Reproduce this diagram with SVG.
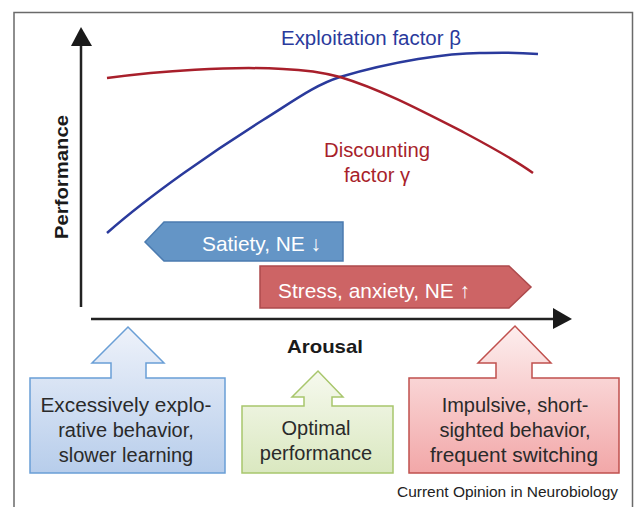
<svg xmlns="http://www.w3.org/2000/svg" width="634" height="507" viewBox="0 0 634 507">
<defs>
<style>
text{font-family:"Liberation Sans",Arial,sans-serif;}
.ax{stroke:#222;stroke-width:2.5;fill:none;}
.head{fill:#1a1a1a;}
.blue{stroke:#2a3a9c;stroke-width:2.5;fill:none;}
.red{stroke:#a81f2b;stroke-width:2.5;fill:none;}
.lbl{font-size:20px;text-anchor:middle;fill:#2a2a2a;}
.bold{font-weight:bold;font-size:19px;fill:#1a1a1a;}
</style>
<linearGradient id="gB" x1="0" y1="0" x2="0" y2="1"><stop offset="0" stop-color="#eef2fa"/><stop offset="1" stop-color="#b7cdeb"/></linearGradient>
<linearGradient id="gG" x1="0" y1="0" x2="0" y2="1"><stop offset="0" stop-color="#f6f9ee"/><stop offset="1" stop-color="#dae8c0"/></linearGradient>
<linearGradient id="gR" x1="0" y1="0" x2="0" y2="1"><stop offset="0" stop-color="#fdeeee"/><stop offset="1" stop-color="#f2a7a8"/></linearGradient>
</defs>
<rect width="634" height="507" fill="#fff"/>
<path d="M14,507 L14,12.5 L632.5,12.5 L632.5,507" fill="none" stroke="#6a6a6a" stroke-width="1.5"/>

<g id="axes">
<line class="ax" x1="81" y1="307" x2="81" y2="44"/>
<polygon class="head" points="71,46 81,27 92,46"/>
<line class="ax" x1="91" y1="319" x2="556" y2="319"/>
<polygon class="head" points="553,308 572,319 553,329"/>
<text class="bold" transform="translate(68,177) rotate(-90)" text-anchor="middle" textLength="124" lengthAdjust="spacingAndGlyphs">Performance</text>
<text class="bold" x="325" y="353" text-anchor="middle" textLength="76" lengthAdjust="spacingAndGlyphs">Arousal</text>
</g>

<g id="curves">
<path class="blue" d="M107,233 C150,195 215,150 263,120 C295,100 315,85 340,77 C390,62 450,52 485,53 C510,52 525,53 538,54"/>
<path class="red" d="M107,78 C160,71 230,66 283,69 C310,70 325,73 340,77 C380,89 420,110 465,133 C495,149 515,160 533,173"/>
<text x="281" y="45" font-size="20" fill="#2a3a9c" textLength="180" lengthAdjust="spacingAndGlyphs">Exploitation factor β</text>
<text x="377" y="157" font-size="20" fill="#a81f2b" text-anchor="middle" textLength="106" lengthAdjust="spacingAndGlyphs">Discounting</text>
<text x="377" y="182" font-size="20" fill="#a81f2b" text-anchor="middle" textLength="66" lengthAdjust="spacingAndGlyphs">factor γ</text>
</g>

<g id="satiety">
<polygon points="145,242 164,222 343,222 343,261 164,261" fill="#6495c6" stroke="#4b7bb0" stroke-width="1.5"/>
<text x="202" y="251" font-size="21" fill="#fff" textLength="119" lengthAdjust="spacingAndGlyphs">Satiety, NE ↓</text>
</g>

<g id="stress">
<polygon points="260,266 509,266 531,287 509,308 260,308" fill="#cd6465" stroke="#ad4a4c" stroke-width="1.5"/>
<text x="278" y="298" font-size="21" fill="#fff" textLength="192" lengthAdjust="spacingAndGlyphs">Stress, anxiety, NE ↑</text>
</g>

<g id="explorative">
<path d="M30,378 L111,378 L111,363 L92,363 L128,327 L164,363 L146,363 L146,378 L225,378 L225,473 L30,473 Z" fill="url(#gB)" stroke="#6a9fd6" stroke-width="1.5"/>
<text class="lbl" x="126" y="412" textLength="171" lengthAdjust="spacingAndGlyphs">Excessively explo-</text>
<text class="lbl" x="126" y="437">rative behavior,</text>
<text class="lbl" x="126" y="462">slower learning</text>
</g>

<g id="optimal">
<path d="M242,406 L304,406 L304,397 L292,397 L318,371 L343,397 L332,397 L332,406 L393,406 L393,473 L242,473 Z" fill="url(#gG)" stroke="#a8c66c" stroke-width="1.5"/>
<text class="lbl" x="316" y="435">Optimal</text>
<text class="lbl" x="316" y="460">performance</text>
</g>

<g id="impulsive">
<path d="M409,378 L496,378 L496,363 L478,363 L515,326 L551,363 L532,363 L532,378 L619,378 L619,473 L409,473 Z" fill="url(#gR)" stroke="#c0504d" stroke-width="1.5"/>
<text class="lbl" x="515" y="412">Impulsive, short-</text>
<text class="lbl" x="515" y="437">sighted behavior,</text>
<text class="lbl" x="514" y="462" textLength="168" lengthAdjust="spacingAndGlyphs">frequent switching</text>
</g>

<text x="397" y="497" font-size="14" fill="#222" textLength="221" lengthAdjust="spacingAndGlyphs">Current Opinion in Neurobiology</text>
</svg>
